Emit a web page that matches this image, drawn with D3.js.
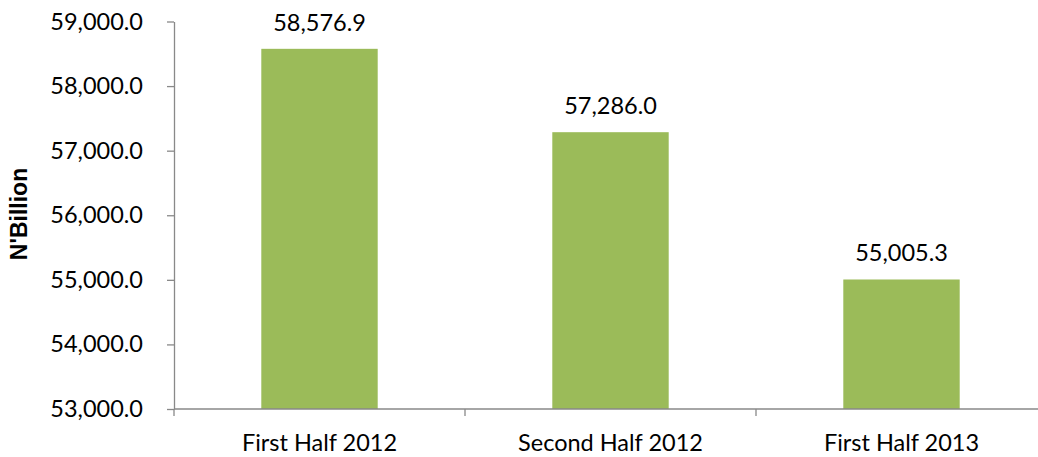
<!DOCTYPE html>
<html>
<head>
<meta charset="utf-8">
<script src="https://cdn.jsdelivr.net/npm/d3@7"></script>
<style>
  html, body { margin: 0; padding: 0; background: #fff; }
  svg { display: block; }
  text { font-family: Lato, "Open Sans", sans-serif; fill: #000; }
</style>
</head>
<body>
<svg id="chart" width="1038" height="457"></svg>
<script>
// Periods on the category axis
const categories = ["First Half 2012", "Second Half 2012", "First Half 2013"];
// Values in N'Billion
const values = [58576.9, 57286.0, 55005.3];
// Value axis ticks
const yTicks = [53000, 54000, 55000, 56000, 57000, 58000, 59000];

const svg = d3.select("#chart");

const plot = { left: 174, right: 1047, top: 21.5, bottom: 409 };

const x = d3.scaleBand()
  .domain(categories)
  .range([plot.left, plot.right])
  .paddingInner(0.6)
  .paddingOuter(0.3);

const y = d3.scaleLinear()
  .domain([53000, 59000])
  .range([plot.bottom, plot.top]);

const fmt = d3.format(",.1f");
const axisColor = "#898989";
const fontSize = "23.5px";

// Bars
svg.append("g")
  .selectAll("rect")
  .data(values)
  .join("rect")
  .attr("x", (d, i) => x(categories[i]))
  .attr("y", d => y(d))
  .attr("width", x.bandwidth())
  .attr("height", d => y(53000) - y(d))
  .attr("fill", "#9BBB59");

// Value labels
svg.append("g")
  .selectAll("text")
  .data(values)
  .join("text")
  .attr("x", (d, i) => x(categories[i]) + x.bandwidth() / 2)
  .attr("y", d => y(d) - 18)
  .attr("text-anchor", "middle")
  .style("font-size", fontSize)
  .text(d => fmt(d));

// Y axis
const yAxis = svg.append("g")
  .attr("transform", `translate(${plot.left},0)`)
  .call(d3.axisLeft(y).tickValues(yTicks).tickFormat(fmt).tickSize(7).tickPadding(24).tickSizeOuter(0));
yAxis.select(".domain").attr("stroke", axisColor).attr("stroke-width", 1.3);
yAxis.selectAll(".tick line").attr("stroke", axisColor).attr("stroke-width", 1.3);
yAxis.selectAll(".tick text")
  .attr("fill", "#000")
  .style("font-family", "Lato, 'Open Sans', sans-serif")
  .style("font-size", fontSize);

// X axis: ticks sit on the category boundaries
const xAxis = svg.append("g")
  .attr("transform", `translate(0,${plot.bottom})`);
xAxis.append("line")
  .attr("x1", plot.left).attr("x2", plot.right)
  .attr("y1", 0).attr("y2", 0)
  .attr("stroke", axisColor).attr("stroke-width", 1.3);
const bounds = d3.range(categories.length + 1).map(i => plot.left + i * x.step());
xAxis.selectAll("line.tick")
  .data(bounds)
  .join("line")
  .attr("class", "tick")
  .attr("x1", d => d).attr("x2", d => d)
  .attr("y1", 0).attr("y2", 7)
  .attr("stroke", axisColor).attr("stroke-width", 1.3);
xAxis.selectAll("text")
  .data(categories)
  .join("text")
  .attr("x", d => x(d) + x.bandwidth() / 2)
  .attr("y", 42)
  .attr("text-anchor", "middle")
  .style("font-size", fontSize)
  .text(d => d);

// Y axis title
svg.append("text")
  .attr("transform", `translate(27,214) rotate(-90)`)
  .attr("text-anchor", "middle")
  .style("font-size", "23px")
  .style("font-weight", "bold")
  .style("font-family", "'Liberation Sans', Arial, sans-serif")
  .text("N'Billion");
</script>
</body>
</html>
